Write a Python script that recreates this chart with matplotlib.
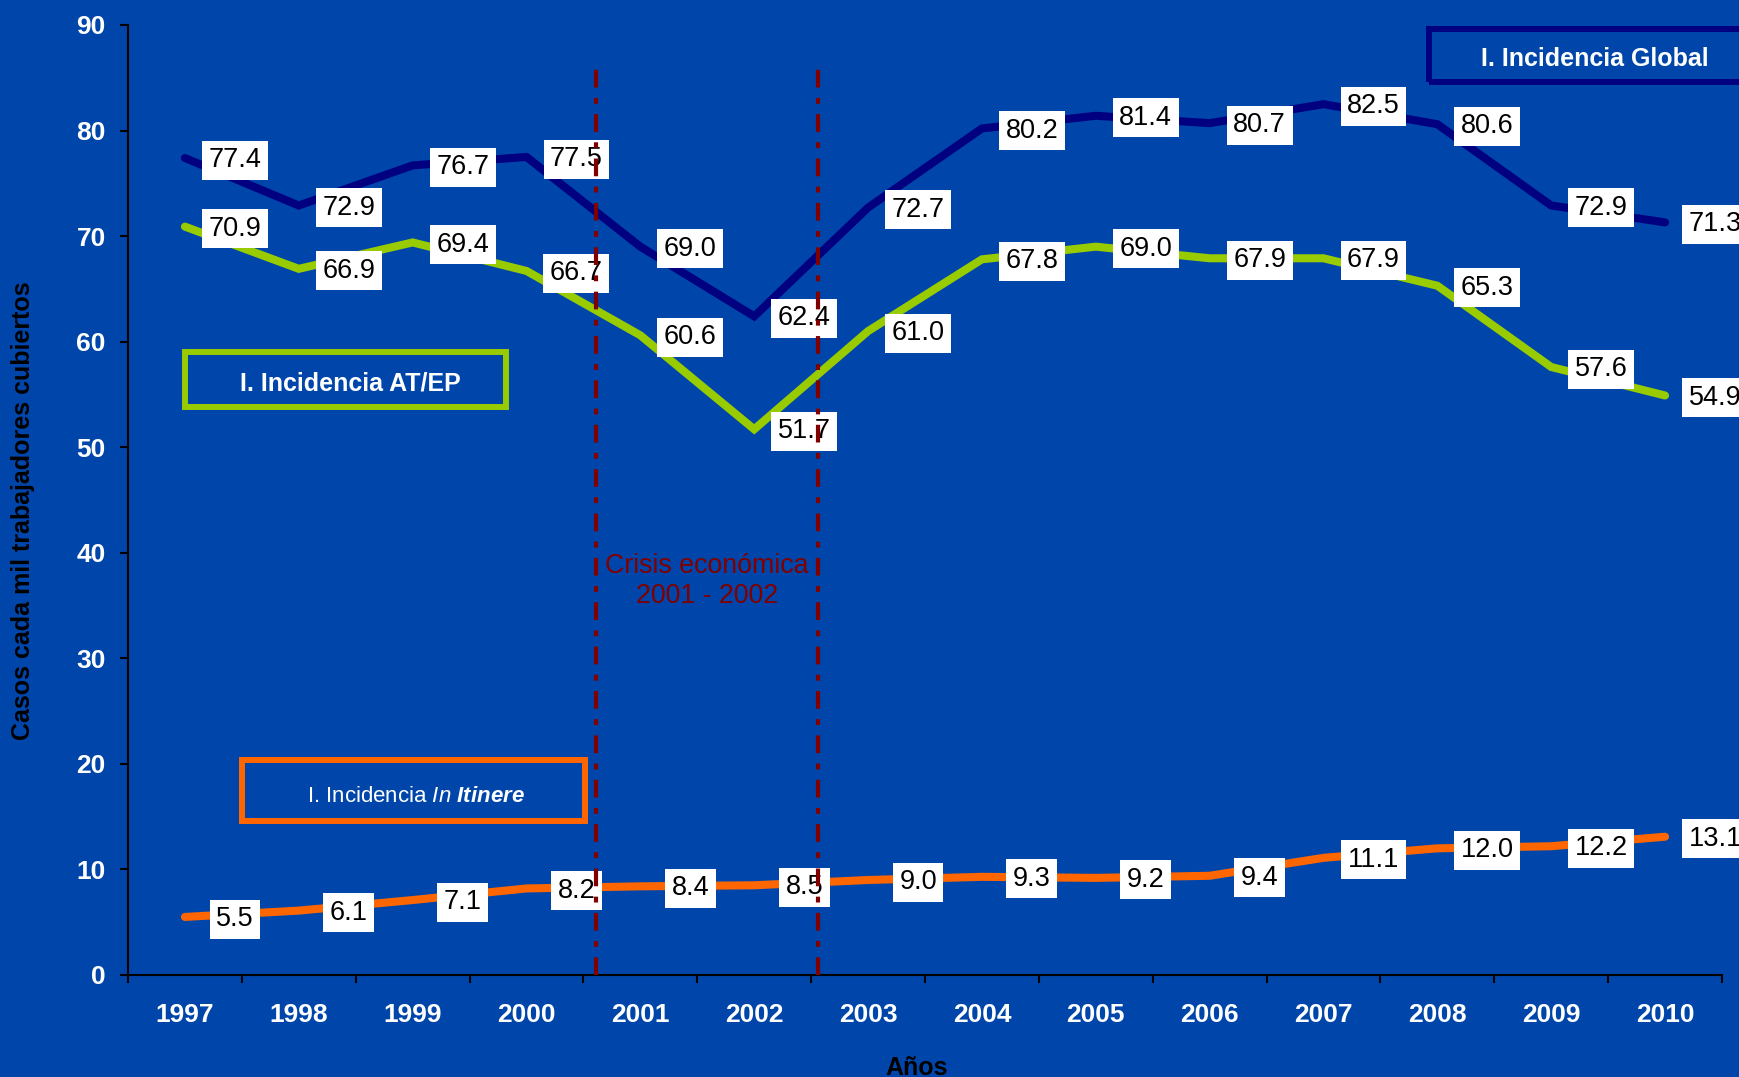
import numpy as np
import matplotlib
matplotlib.use('Agg')
import matplotlib.pyplot as plt
from matplotlib.patches import Rectangle

plt.rcParams['font.family'] = 'Liberation Sans'
plt.rcParams['mathtext.fontset'] = 'custom'
plt.rcParams['mathtext.rm'] = 'Liberation Sans'
plt.rcParams['mathtext.it'] = 'Liberation Sans:italic'
plt.rcParams['mathtext.bf'] = 'Liberation Sans:bold'
plt.rcParams['mathtext.bfit'] = 'Liberation Sans:bold:italic'

# Datos
anios = ['1997', '1998', '1999', '2000', '2001', '2002', '2003',
         '2004', '2005', '2006', '2007', '2008', '2009', '2010']
global_ = [77.4, 72.9, 76.7, 77.5, 69.0, 62.4, 72.7,
           80.2, 81.4, 80.7, 82.5, 80.6, 72.9, 71.3]
at_ep = [70.9, 66.9, 69.4, 66.7, 60.6, 51.7, 61.0,
         67.8, 69.0, 67.9, 67.9, 65.3, 57.6, 54.9]
itinere = [5.5, 6.1, 7.1, 8.2, 8.4, 8.5, 9.0,
           9.3, 9.2, 9.4, 11.1, 12.0, 12.2, 13.1]

fondo = '#0046AA'
c_global = '#000080'
c_atep = '#99CC00'
c_itin = '#FF6600'
c_crisis = '#800000'

W, H = 1739, 1077
fig = plt.figure(figsize=(W / 100, H / 100), dpi=100, facecolor=fondo)
ax = fig.add_axes([128 / W, 102 / H, (1722 - 128) / W, (975 - 25) / H])
ax.set_facecolor(fondo)

x = np.arange(len(anios))
for serie, color in [(global_, c_global), (at_ep, c_atep), (itinere, c_itin)]:
    ax.plot(x, serie, color=color, lw=5.8, solid_capstyle='round',
            solid_joinstyle='miter', zorder=3)
    for xi, v in zip(x, serie):
        ax.annotate(f'{v:.1f}', (xi, v), xytext=(36, -1.5), textcoords='offset points',
                    ha='center', va='center', fontsize=19.5, color='black',
                    bbox=dict(boxstyle='square,pad=0.24', fc='white', ec='none'),
                    zorder=4, annotation_clip=False)

# Lineas de crisis
for xc in [3.61, 5.56]:
    ax.plot([xc, xc], [0, 85.9], color=c_crisis, lw=3,
            linestyle=(0, (4.25, 2.5, 1.4, 2.5)), dash_capstyle='butt', zorder=5)
ax.text((3.61 + 5.56) / 2, 37.3, 'Crisis económica\n2001 - 2002', color=c_crisis,
        fontsize=19.3, ha='center', va='center', linespacing=1.2, zorder=5)

ax.set_xlim(-0.5, 13.5)
ax.set_ylim(0, 90)
ax.set_yticks(range(0, 91, 10))
ax.set_xticks(np.arange(-0.5, 14, 1))
ax.set_xticklabels([])
ax.set_xticks(x, minor=True)
ax.set_xticklabels(anios, minor=True)
ax.tick_params(axis='x', which='major', length=6, width=1.5, color='black', direction='out')
ax.tick_params(axis='x', which='minor', length=0, pad=20, labelsize=19,
               labelcolor='white')
ax.tick_params(axis='y', length=6, width=1.5, color='black', pad=10, labelsize=19,
               labelcolor='white')
for lab in ax.get_xticklabels(minor=True) + ax.get_yticklabels():
    lab.set_fontweight('bold')
for s in ['top', 'right']:
    ax.spines[s].set_visible(False)
for s in ['left', 'bottom']:
    ax.spines[s].set_linewidth(1.5)
    ax.spines[s].set_color('black')

fig.text(23 / W, 1 - 511 / H, 'Casos cada mil trabajadores cubiertos', rotation=90,
         ha='center', va='center', fontsize=18, fontweight='bold', color='black')
fig.text(917 / W, 2 / H, 'Años', ha='center', va='baseline', fontsize=18,
         fontweight='bold', color='black')


# Recuadros de leyenda (coordenadas en pixeles desde arriba)
def recuadro(x0, y0, x1, y1, color):
    fig.patches.append(Rectangle((x0 / W, 1 - y1 / H), (x1 - x0) / W, (y1 - y0) / H,
                                 transform=fig.transFigure, fill=False,
                                 ec=color, lw=4.3, zorder=6))


recuadro(1429, 29, 1780, 82, c_global)
fig.text(1595 / W, 1 - 59 / H, 'I. Incidencia Global', ha='center', va='center',
         fontsize=18, fontweight='bold', color='white')
recuadro(185, 352, 506, 407, c_atep)
fig.text(350 / W, 1 - 384 / H, 'I. Incidencia AT/EP', ha='center', va='center',
         fontsize=18, fontweight='bold', color='white')
recuadro(242, 760, 585, 821, c_itin)
fig.text(416 / W, 1 - 796 / H, r'I. Incidencia $\mathit{In}\ \mathbfit{Itinere}$',
         ha='center', va='center', fontsize=16, color='white')

fig.savefig('out.png', dpi=100, facecolor=fondo)
